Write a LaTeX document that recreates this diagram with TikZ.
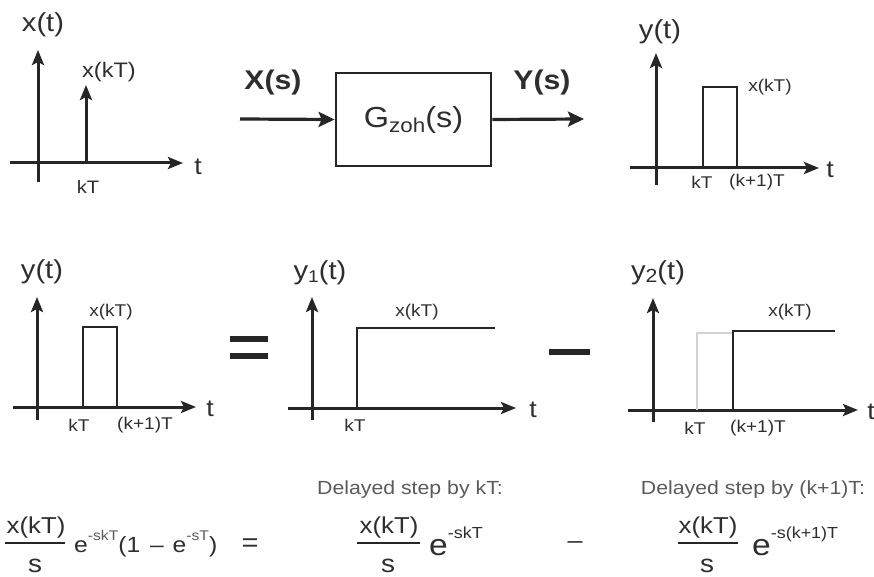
\documentclass[tikz,border=0pt]{standalone}
\usepackage{fontspec}
\setmainfont{Liberation Sans}[FakeStretch=1.12]
\usetikzlibrary{arrows.meta}
\newcommand\fsz[1]{\fontsize{#1}{#1}\selectfont}
\definecolor{ink}{HTML}{262626}
\definecolor{txt}{HTML}{2E2E2E}
\definecolor{soft}{HTML}{5A5A5A}
\definecolor{ghost}{HTML}{D2D2D2}
\begin{document}
\begin{tikzpicture}[x=1pt,y=-1pt,
 axisline/.style={draw=ink,line width=3pt,-{Stealth[length=15pt,width=12pt,inset=3pt]}},
 flow/.style={draw=ink,line width=3.2pt,-{Stealth[length=16pt,width=15pt,inset=3pt]}},
 pulse/.style={draw=ink,line width=1.7pt},
 stepv/.style={draw=ink,line width=2.4pt},
 steph/.style={draw=ink,line width=1.5pt},
 big/.style={text=txt,inner sep=0pt,font=\fsz{26}},
 bold/.style={text=txt,inner sep=0pt,font=\fsz{27}\bfseries},
 small/.style={text=txt,inner sep=0pt,font=\fsz{17}},
 tl/.style={text=txt,inner sep=0pt,font=\fsz{24}},
 note/.style={text=soft,inner sep=0pt,font=\fsz{19}},
 frac/.style={text=txt,inner sep=0pt,font=\fsz{23}},
 expo/.style={text=txt,inner sep=0pt,font=\fsz{22},anchor=base west},
 bar/.style={draw=ink,line width=2pt},
 sign/.style={draw=ink,line width=6pt},
 block/.style={draw=ink,line width=2.8pt,minimum width=155pt,minimum height=93pt,inner sep=0pt,text=txt,font=\fsz{29}}
]
\useasboundingbox (0,0) rectangle (874,577);

% ---------- Panel 1: x(t)
\coordinate (a1l) at (10,163); \coordinate (a1r) at (183,163);
\coordinate (a1b) at (38,182); \coordinate (a1t) at (38,50);
\draw[axisline] (a1l) -- (a1r);
\draw[axisline] (a1b) -- (a1t);
\coordinate (imp0) at (86,163); \coordinate (imp1) at (86,85);
\draw[axisline] (imp0) -- (imp1);
\node[big] (lx) at (43,25) {x(t)};
\node[small,font=\fsz{21}] (lxk) at (109,72) {x(kT)};
\node[tl] (lt1) at (198,167) {t};
\node[small,font=\fsz{18}] (lk1) at (88,187) {kT};

% ---------- Block
\node[block] (G) at (413.5,119.5) {G\raisebox{-0.2em}{\fsz{20}zoh}(s)};
\coordinate (in) at (240,119); \coordinate (out) at (584,119);
\draw[flow] (in) -- (G.west);
\draw[flow] (G.east) -- (out);
\node[bold] (Xs) at (273,83) {X(s)};
\node[bold] (Ys) at (542,83) {Y(s)};

% ---------- Panel 3: y(t)
\coordinate (a3l) at (630,168); \coordinate (a3r) at (819,168);
\coordinate (a3b) at (656,185); \coordinate (a3t) at (656,53);
\draw[axisline] (a3l) -- (a3r);
\draw[axisline] (a3b) -- (a3t);
\draw[pulse] (703,168) -- (703,87) -- (737,87) -- (737,168);
\node[big] (ly3) at (660,32) {y(t)};
\node[small] (lx3) at (770,87) {x(kT)};
\node[tl] (lt3) at (830,170) {t};
\node[small] (lk3) at (702,182) {kT};
\node[small] (lk3b) at (757,182) {(k+1)T};

% ---------- Panel 4: y(t)
\coordinate (a4l) at (13,407); \coordinate (a4r) at (196,407);
\coordinate (a4b) at (37,420); \coordinate (a4t) at (37,297);
\draw[axisline] (a4l) -- (a4r);
\draw[axisline] (a4b) -- (a4t);
\draw[pulse] (83,407) -- (83,327) -- (117,327) -- (117,407);
\node[big] (ly4) at (42,272) {y(t)};
\node[small] (lx4) at (111,312) {x(kT)};
\node[tl] (lt4) at (210,409) {t};
\node[small] (lk4) at (79,425) {kT};
\node[small] (lk4b) at (145,425) {(k+1)T};

% equal sign
\draw[sign] (230,339) -- (268,339);
\draw[sign] (230,356) -- (268,356);

% ---------- Panel 5: y1(t)
\coordinate (a5l) at (288,408); \coordinate (a5r) at (516,408);
\coordinate (a5b) at (312,420); \coordinate (a5t) at (312,297);
\draw[axisline] (a5l) -- (a5r);
\draw[axisline] (a5b) -- (a5t);
\draw[stepv] (357,408) -- (357,328);
\draw[steph] (356,328) -- (495,328);
\node[big] (ly5) at (320,273) {y\raisebox{-0.12em}{\fsz{17}1}(t)};
\node[small] (lx5) at (417,312) {x(kT)};
\node[tl] (lt5) at (533,410) {t};
\node[small] (lk5) at (355,425) {kT};

% minus sign
\draw[sign] (549,352) -- (590,352);

% ---------- Panel 6: y2(t)
\coordinate (a6l) at (628,410); \coordinate (a6r) at (858,410);
\coordinate (a6b) at (653,422); \coordinate (a6t) at (653,298);
\draw[axisline] (a6l) -- (a6r);
\draw[axisline] (a6b) -- (a6t);
\draw[draw=ghost,line width=1.4pt] (697,410) -- (697,333) -- (733,333);
\draw[stepv] (733,410) -- (733,331);
\draw[steph] (732,331) -- (835,331);
\node[big] (ly6) at (658,273) {y\raisebox{-0.12em}{\fsz{19}2}(t)};
\node[small] (lx6) at (790,312) {x(kT)};
\node[tl] (lt6) at (871,412) {t};
\node[small] (lk6) at (695,428) {kT};
\node[small] (lk6b) at (758,428) {(k+1)T};

% ---------- Bottom: equations
\node[note] (d1) at (410,490) {Delayed step by kT:};
\node[note] (d2) at (753,490) {Delayed step by (k+1)T:};

% left side
\node[frac] (n1) at (36,528) {x(kT)};
\node[frac,font=\fsz{25}] (s1) at (35,566) {s};
\draw[bar] (5,543) -- (65,543);
\node[expo] (e1) at (74,552) {e\raisebox{12pt}{\fsz{14}\color{soft}-skT}(1\hspace{0.45em}–\hspace{0.4em}e\raisebox{12pt}{\fsz{14}\color{soft}-sT})};
\node[text=txt,inner sep=0pt,font=\fsz{26}] (eq) at (250,545) {=};

% middle
\node[frac] (n2) at (389,528) {x(kT)};
\node[frac,font=\fsz{25}] (s2) at (388,566) {s};
\draw[bar] (357,543) -- (420,543);
\node[expo,font=\fsz{30}] (e2) at (429,555) {e\raisebox{17pt}{\fsz{16}-skT}};
\node[text=txt,inner sep=0pt,font=\fsz{24}] (mi) at (575,545) {–};

% right
\node[frac] (n3) at (708,528) {x(kT)};
\node[frac,font=\fsz{25}] (s3) at (707,566) {s};
\draw[bar] (678,543) -- (738,543);
\node[expo,font=\fsz{30}] (e3) at (752,555) {e\raisebox{17pt}{\fsz{16}-s(k+1)T}};
\end{tikzpicture}
\end{document}
